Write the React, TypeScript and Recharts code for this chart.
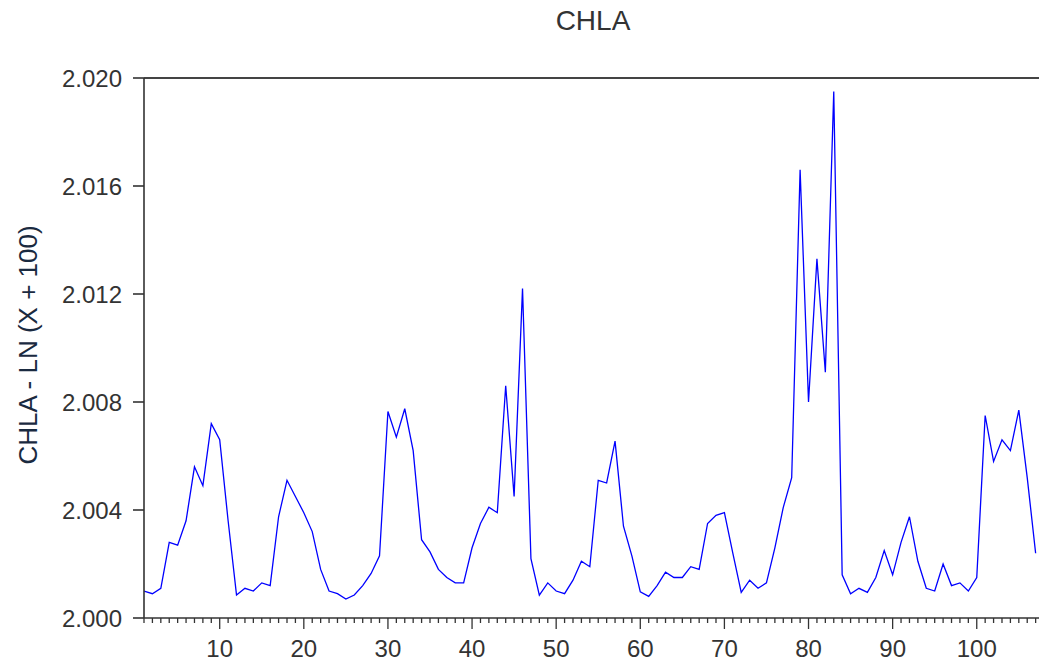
import React from 'react';
import { LineChart, Line, XAxis, YAxis, ReferenceLine } from 'recharts';

if (typeof document !== 'undefined') {
  document.body.style.margin = '0';
  document.body.style.overflow = 'hidden';
}

const chlaValues = [
  2.0010, 2.0009, 2.0011, 2.0028, 2.0027, 2.0036, 2.0056, 2.0049, 2.0072, 2.0066,
  2.0036, 2.00085, 2.0011, 2.0010, 2.0013, 2.0012, 2.00375, 2.0051, 2.0045, 2.0039,
  2.0032, 2.0018, 2.0010, 2.0009, 2.0007, 2.00085, 2.0012, 2.00165, 2.0023, 2.00765,
  2.0067, 2.00775, 2.0062, 2.0029, 2.00245, 2.0018, 2.0015, 2.0013, 2.0013, 2.0026,
  2.0035, 2.0041, 2.0039, 2.0086, 2.0045, 2.0122, 2.0022, 2.00085, 2.0013, 2.0010,
  2.0009, 2.0014, 2.0021, 2.0019, 2.0051, 2.0050, 2.00655, 2.0034, 2.0023, 2.00097,
  2.0008, 2.0012, 2.0017, 2.0015, 2.0015, 2.0019, 2.0018, 2.0035, 2.0038, 2.0039,
  2.0024, 2.00095, 2.0014, 2.0011, 2.0013, 2.0026, 2.0041, 2.0052, 2.0166, 2.0080,
  2.0133, 2.0091, 2.0195, 2.0016, 2.0009, 2.0011, 2.00095, 2.0015, 2.0025, 2.0016,
  2.0028, 2.00375, 2.0021, 2.0011, 2.0010, 2.0020, 2.0012, 2.0013, 2.0010, 2.0015,
  2.0075, 2.0058, 2.0066, 2.0062, 2.0077, 2.0052, 2.0024,
];

const yTicks = [2.0, 2.004, 2.008, 2.012, 2.016, 2.02];
const xTickValues = chlaValues.map((_, i) => i + 1);
const titleText = 'CHLA';
const yAxisTitle = 'CHLA - LN (X + 100)';

const data = chlaValues.map((v, i) => ({ obs: i + 1, value: v }));

const FONT = '"Liberation Sans", Arial, sans-serif';

const XTick = (props: any) => {
  const { x, y, payload } = props;
  const major = payload.value % 10 === 0;
  return (
    <g>
      <line x1={x} x2={x} y1={y} y2={y + (major ? 11 : 5)} stroke="#333" strokeWidth={1.3} />
      {major && (
        <text x={x} y={y + 39} textAnchor="middle" fontSize={24} fill="#333" fontFamily={FONT}>
          {payload.value}
        </text>
      )}
    </g>
  );
};

export default function App() {
  return (
    <div style={{ position: 'relative', width: 1031, height: 656, padding: '8px 0 0 8px' }}>
      <LineChart
        width={1031}
        height={656}
        data={data}
        margin={{ top: 70, right: 0, bottom: 0, left: 0 }}
      >
        <XAxis
          dataKey="obs"
          type="number"
          domain={[1, 107.4]}
          ticks={xTickValues}
          interval={0}
          tick={<XTick />}
          tickLine={false}
          tickSize={0}
          tickMargin={0}
          height={46}
          stroke="#333"
          strokeWidth={1.6}
          allowDataOverflow
        />
        <YAxis
          type="number"
          domain={[2.0, 2.02]}
          ticks={yTicks}
          interval={0}
          tickFormatter={(v: number) => v.toFixed(3)}
          width={136}
          tickSize={11}
          tickMargin={11}
          stroke="#333"
          strokeWidth={1.6}
          tick={{ fontSize: 24, fill: '#333', fontFamily: FONT }}
          allowDataOverflow
        />
        <ReferenceLine y={2.02} stroke="#444" strokeWidth={1.8} />
        <Line
          type="linear"
          dataKey="value"
          stroke="#0000ff"
          strokeWidth={1.3}
          dot={false}
          isAnimationActive={false}
        />
      </LineChart>
      <svg
        width={1039}
        height={664}
        style={{ position: 'absolute', left: 0, top: 0, pointerEvents: 'none' }}
      >
        <text x={593} y={30} textAnchor="middle" fontSize={28} fill="#333" fontFamily={FONT}>
          {titleText}
        </text>
        <text
          x={27.5}
          y={345}
          textAnchor="middle"
          dominantBaseline="central"
          fontSize={26}
          fill="#1a2a40"
          fontFamily={FONT}
          transform="rotate(-90 27.5 345)"
        >
          {yAxisTitle}
        </text>
      </svg>
    </div>
  );
}
